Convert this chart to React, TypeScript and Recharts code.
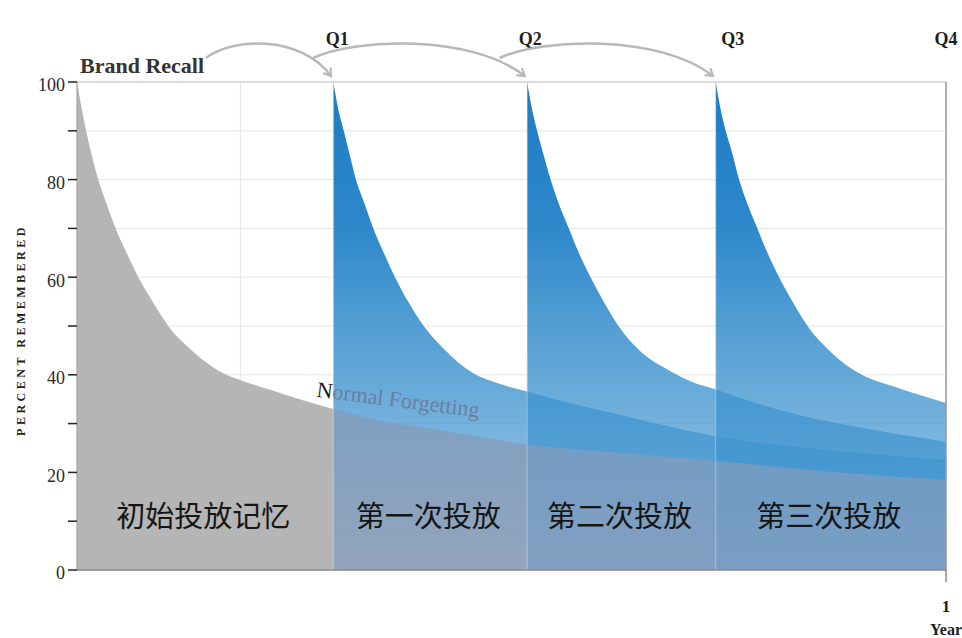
import React from 'react';
import {
  ComposedChart,
  Area,
  XAxis,
  YAxis,
  CartesianGrid,
  ReferenceLine,
  ReferenceArea,
} from 'recharts';

const W = 962;
const H = 638;
const PLOT = { left: 77, top: 82, right: 945, bottom: 570 };
const SERIF = "'Liberation Serif', 'Times New Roman', serif";
const CJK = "'Noto Sans CJK SC', 'Noto Sans', sans-serif";

// flight starts, as a fraction of one year
const Q1 = 0.295;
const Q2 = 0.518;
const Q3 = 0.735;
const quarterMarks = [Q1, Q2, Q3, 1];
const quarterLabels = ['Q1', 'Q2', 'Q3', 'Q4'];
const quarterLabelDx = [4, 3, 17, 0];
const gridMark = 0.188;

const yTicks = [0, 10, 20, 30, 40, 50, 60, 70, 80, 90, 100];

// initial campaign recall (percent remembered)
const initialT = [0, 0.005, 0.0105, 0.017, 0.0245, 0.034, 0.0445, 0.057, 0.0706, 0.087, 0.105, 0.132, 0.172, 0.19, 0.225, 0.26, Q1];
const initialV = [100, 95, 90, 85, 80, 75, 70, 65, 60, 55, 50, 45, 40, 38.8, 36.8, 34.8, 33];

// normal forgetting after Q1
const normalT = [Q1, 0.343, 0.4, 0.458, Q2, 0.626, Q3, 0.864, 1];
const normalV = [33, 30.8, 29.1, 27.4, 25.7, 24, 22.4, 20.2, 18.5];

const flight1T = [Q1, 0.3, 0.307, 0.314, 0.321, 0.331, 0.341, 0.353, 0.366, 0.381, 0.399, 0.424, 0.455, 0.4853, Q2, 0.574, 0.632, 0.689, Q3, 0.864, 1];
const flight1V = [100, 95, 90, 85, 80, 75, 70, 65, 60, 55, 50, 45, 40.4, 38.2, 36.6, 33.9, 31.5, 29.1, 27.4, 24.6, 22.6];

const flight2T = [Q2, 0.523, 0.5295, 0.537, 0.545, 0.5545, 0.566, 0.5775, 0.591, 0.606, 0.623, 0.6486, 0.6794, 0.706, Q3, 0.806, 0.883, 1];
const flight2V = [100, 95, 90, 85, 80, 75, 70, 65, 60, 55, 50, 44.8, 41.1, 38.7, 37, 32.9, 29.8, 26.3];

const flight3T = [Q3, 0.74, 0.7465, 0.754, 0.7619, 0.7715, 0.783, 0.7945, 0.808, 0.8233, 0.8406, 0.8655, 0.903, 0.94, 1];
const flight3V = [100, 95, 90, 85.4, 80, 75, 70, 65, 60, 55, 50, 45, 40, 37.6, 34.2];

const segmentBounds = [0, Q1, Q2, Q3, 1];
const segmentLabels = ['初始投放记忆', '第一次投放', '第二次投放', '第三次投放'];

const zip = (ts: number[], vs: number[]) => ts.map((t, i) => ({ t, v: vs[i] }));

const initialData = zip(initialT, initialV);
const normalData = zip(normalT, normalV);
const baseData = [...initialData, ...normalData.slice(1)];
const flights = [zip(flight1T, flight1V), zip(flight2T, flight2V), zip(flight3T, flight3V)];

const px = (t: number) => PLOT.left + t * (PLOT.right - PLOT.left);
const py = (v: number) => PLOT.bottom - (v / 100) * (PLOT.bottom - PLOT.top);

function LeftTick({ x, y, payload }: any) {
  if (payload.value % 20 !== 0) return <g />;
  return (
    <text x={x} y={y + 3} dy="0.35em" textAnchor="end" fontFamily={SERIF} fontSize={18} fill="#2a2a2a">
      {payload.value}
    </text>
  );
}

function YearTick({ x, payload }: any) {
  if (payload.value !== 1) return <g />;
  return (
    <g>
      <line x1={x} x2={x} y1={PLOT.bottom} y2={PLOT.bottom + 12} stroke="#8a8a8a" strokeWidth={1.5} />
      <text x={x} y={PLOT.bottom + 42} textAnchor="middle" fontFamily={SERIF} fontWeight="bold" fontSize={17} fill="#222">
        1
      </text>
      <text x={x} y={PLOT.bottom + 65} textAnchor="middle" fontFamily={SERIF} fontWeight="bold" fontSize={16} fill="#222">
        Year
      </text>
    </g>
  );
}

const arrowStarts = [206, px(Q1) - 20, px(Q2) - 27];

export default function App() {
  return (
    <div style={{ position: 'absolute', left: 0, top: 0, width: W, height: H, background: '#fff' }}>
      <ComposedChart
        width={W}
        height={H}
        margin={{ top: PLOT.top, right: W - PLOT.right - 1, bottom: 0, left: 0 }}
      >
        <defs>
          <linearGradient id="blueFade" x1="0" y1="0" x2="0" y2="1">
            <stop offset="0" stopColor="rgb(28,124,196)" stopOpacity={1} />
            <stop offset="0.3" stopColor="rgb(35,130,200)" stopOpacity={0.95} />
            <stop offset="0.55" stopColor="rgb(62,147,207)" stopOpacity={0.85} />
            <stop offset="0.7" stopColor="rgb(62,147,207)" stopOpacity={0.72} />
            <stop offset="1" stopColor="rgb(62,147,207)" stopOpacity={0.45} />
          </linearGradient>
        </defs>
        <CartesianGrid stroke="#e4e4e4" />
        <XAxis
          type="number"
          dataKey="t"
          domain={[0, 1]}
          ticks={[gridMark, ...quarterMarks]}
          interval={0}
          height={H - PLOT.bottom}
          tickLine={false}
          tick={YearTick}
          axisLine={{ stroke: '#8a8a8a', strokeWidth: 1.5 }}
        />
        <YAxis
          type="number"
          domain={[0, 100]}
          ticks={yTicks}
          interval={0}
          width={PLOT.left}
          tickSize={9}
          tickMargin={3}
          tick={LeftTick}
          tickLine={{ stroke: '#222', strokeWidth: 1.5 }}
          axisLine={{ stroke: '#a0a0a0' }}
        />
        <YAxis
          yAxisId="r"
          orientation="right"
          type="number"
          domain={[0, 100]}
          ticks={yTicks}
          interval={0}
          width={1}
          mirror
          tickSize={4}
          tickFormatter={() => ''}
          tickLine={{ stroke: '#555', strokeWidth: 1.5 }}
          axisLine={false}
        />
        <Area
          data={baseData}
          dataKey="v"
          type="monotone"
          fill="#b4b5b4"
          fillOpacity={1}
          stroke="none"
          dot={false}
          activeDot={false}
          isAnimationActive={false}
        />
        {flights.map((d, i) => (
          <Area
            key={i}
            data={d}
            dataKey="v"
            type="monotone"
            fill="url(#blueFade)"
            fillOpacity={1}
            stroke="none"
            dot={false}
            activeDot={false}
            isAnimationActive={false}
          />
        ))}
        <Area
          data={normalData}
          dataKey="v"
          type="monotone"
          fill="rgb(170,165,185)"
          fillOpacity={0.45}
          stroke="none"
          dot={false}
          activeDot={false}
          isAnimationActive={false}
        />
        <ReferenceLine y={100} stroke="#c4c4c4" />
        {quarterMarks.map((q, i) => (
          <ReferenceLine
            key={q}
            x={q}
            stroke={q === 1 ? '#9a9a9a' : 'rgba(255,255,255,0.35)'}
            strokeWidth={q === 1 ? 1.5 : 1}
            label={(p: any) => (
              <text
                x={p.viewBox.x + quarterLabelDx[i]}
                y={p.viewBox.y - 37}
                textAnchor="middle"
                fontFamily={SERIF}
                fontWeight="bold"
                fontSize={18}
                fill="#1e1e1e"
              >
                {quarterLabels[i]}
              </text>
            )}
          />
        ))}
        {segmentLabels.map((s, i) => (
          <ReferenceArea
            key={s}
            x1={segmentBounds[i]}
            x2={segmentBounds[i + 1]}
            y1={0}
            y2={22}
            fill="none"
            stroke="none"
            label={(p: any) => (
              <text
                x={p.viewBox.x + p.viewBox.width / 2 - 2}
                y={p.viewBox.y + p.viewBox.height / 2}
                dy="0.36em"
                textAnchor="middle"
                fontFamily={CJK}
                fontSize={29}
                fill="#151515"
              >
                {s}
              </text>
            )}
          />
        ))}
      </ComposedChart>
      <svg
        width={W}
        height={H}
        style={{ position: 'absolute', left: 0, top: 0, pointerEvents: 'none' }}
      >
        <defs>
          <marker id="arrowHead" markerWidth="12" markerHeight="12" refX="9" refY="6" orient="auto" markerUnits="userSpaceOnUse">
            <path d="M2,1.5 L9,6 L2,10.5" fill="none" stroke="#b8b8b8" strokeWidth={2.2} />
          </marker>
        </defs>
        {arrowStarts.map((sx, i) => {
          const ex = px(quarterMarks[i]) - 2;
          const span = ex - sx;
          return (
            <path
              key={i}
              d={`M ${sx} 58 C ${sx + span * 0.2} 38, ${sx + span * 0.75} 34, ${ex} 76`}
              fill="none"
              stroke="#b8b8b8"
              strokeWidth={2.5}
              markerEnd="url(#arrowHead)"
            />
          );
        })}
        <text x={80} y={73} fontFamily={SERIF} fontWeight="bold" fontSize={22} fill="#333">
          Brand Recall
        </text>
        <text
          x={21}
          y={330}
          transform="rotate(-90 21 330)"
          dy="0.35em"
          textAnchor="middle"
          fontFamily={SERIF}
          fontWeight="bold"
          fontSize={12}
          letterSpacing={3.5}
          fill="#222"
        >
          PERCENT REMEMBERED
        </text>
        <text
          x={px(0.2753)}
          y={py(35.5)}
          transform={`rotate(7.2 ${px(0.2753)} ${py(35.5)})`}
          fontFamily={SERIF}
          fontSize={22}
        >
          <tspan fill="#1a1a1a">N</tspan>
          <tspan fill="#6e7da0">ormal Forgetting</tspan>
        </text>
      </svg>
    </div>
  );
}
